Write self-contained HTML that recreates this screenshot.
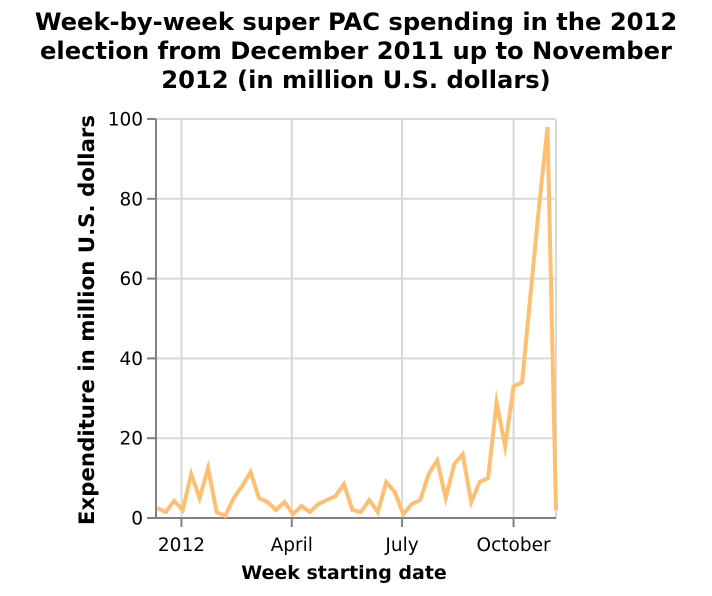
<!DOCTYPE html>
<html><head><meta charset="utf-8"><style>
body{margin:0;background:#fff;font-family:"DejaVu Sans",sans-serif;}
</style></head><body>
<svg id="chart" width="712" height="592" xmlns="http://www.w3.org/2000/svg" font-family="DejaVu Sans, sans-serif">
<text x="356" y="30" text-anchor="middle" font-size="24.2" font-weight="bold" fill="#000">Week-by-week super PAC spending in the 2012</text>
<text x="356" y="59" text-anchor="middle" font-size="24.2" font-weight="bold" fill="#000">election from December 2011 up to November</text>
<text x="356" y="88" text-anchor="middle" font-size="24.2" font-weight="bold" fill="#000">2012 (in million U.S. dollars)</text>
<text x="344" y="579" text-anchor="middle" font-size="19" font-weight="bold">Week starting date</text>
<text transform="translate(94,320) rotate(-90)" text-anchor="middle" font-size="21.3" font-weight="bold">Expenditure in million U.S. dollars</text>
<g id="grid"></g><g id="axes"></g><g id="series"></g>
</svg>
<script>
const startDate = "2011-12-12";
const values = [2.5,1.5,4.3,2,11,5,12.5,1.5,0.5,5,8,11.5,5,4,2,4,1,3,1.5,3.5,4.5,5.5,8.5,2,1.5,4.5,1.5,9,6.5,1,3.5,4.5,11,14.5,5,13.5,16,4,9,10,29,18,33,34,56,78,98,2];
const yTicks = [0,20,40,60,80,100];
const xTickDates = ["2012-01-01","2012-04-01","2012-07-01","2012-10-01"];
const xTickLabels = ["2012","April","July","October"];

const NS="http://www.w3.org/2000/svg";
const L=156,R=556,T=119,B=518;
const d0=Date.parse("2011-12-11"),d1=Date.parse("2012-11-05");
const xs=t=>L+(t-d0)/(d1-d0)*(R-L);
const ys=v=>B-v/100*(B-T);
function mk(tag,attrs,parent){const e=document.createElementNS(NS,tag);for(const k in attrs)e.setAttribute(k,attrs[k]);document.getElementById(parent).appendChild(e);return e;}
yTicks.forEach(v=>{
  const l=mk('line',{x1:L,x2:R,y1:ys(v),y2:ys(v),stroke:'#d9d9d9','stroke-width':2},'grid');
  
  
  const t=mk('line',{x1:L-9,x2:L,y1:ys(v),y2:ys(v),stroke:'#808080','stroke-width':2},'axes');
  
  
  const tx=mk('text',{x:L-13,y:ys(v)+6.5,'text-anchor':'end','font-size':18.5,fill:'#000'},'axes');
  tx.textContent=v;
  
  
});
mk('line',{x1:R,x2:R,y1:T,y2:B,stroke:'#d9d9d9','stroke-width':2},'grid');
xTickDates.forEach((d,i)=>{
  const x=xs(Date.parse(d));
  const g=mk('line',{x1:x,x2:x,y1:T,y2:B,stroke:'#d9d9d9','stroke-width':2},'grid');
  
  
  const t=mk('line',{x1:x,x2:x,y1:B,y2:B+9,stroke:'#808080','stroke-width':2},'axes');
  
  
  const tx=mk('text',{x:x,y:B+33,'text-anchor':'middle','font-size':18.5},'axes');
  tx.textContent=xTickLabels[i];
  
  
});
const ax=mk('path',{d:`M${L},${T}V${B}H${R}`,fill:'none',stroke:'#808080','stroke-width':2},'axes');


const s0=Date.parse(startDate);
const pts=values.map((v,i)=>xs(s0+i*7*864e5).toFixed(1)+','+ys(v).toFixed(1)).join(' ');
const line=mk('polyline',{points:pts,fill:'none',stroke:'#ffbf73','stroke-width':4,'stroke-linejoin':'miter','stroke-miterlimit':10},'series');


</script>
</body></html>
